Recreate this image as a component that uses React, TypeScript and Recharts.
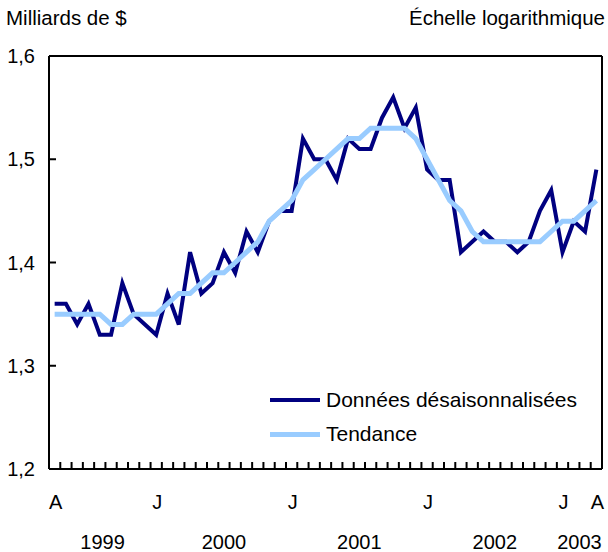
import React from 'react'
import { LineChart, Line, XAxis, YAxis } from 'recharts'

// Monthly, April 1999 to April 2003 (49 months), index 0 = April 1999
const seasonalData = [
  1.36, 1.36, 1.34, 1.36, 1.33, 1.33, 1.38, 1.35, 1.34,
  1.33, 1.37, 1.34, 1.41, 1.37, 1.38, 1.41, 1.39, 1.43, 1.41, 1.44, 1.45,
  1.45, 1.52, 1.5, 1.5, 1.48, 1.52, 1.51, 1.51, 1.54, 1.56, 1.53, 1.55,
  1.49, 1.48, 1.48, 1.41, 1.42, 1.43, 1.42, 1.42, 1.41, 1.42, 1.45, 1.47,
  1.41, 1.44, 1.43, 1.49,
]

const trendData = [
  1.35, 1.35, 1.35, 1.35, 1.35, 1.34, 1.34, 1.35, 1.35,
  1.35, 1.36, 1.37, 1.37, 1.38, 1.39, 1.39, 1.4, 1.41, 1.42, 1.44, 1.45,
  1.46, 1.48, 1.49, 1.5, 1.51, 1.52, 1.52, 1.53, 1.53, 1.53, 1.53, 1.52,
  1.5, 1.48, 1.46, 1.45, 1.43, 1.42, 1.42, 1.42, 1.42, 1.42, 1.42, 1.43,
  1.44, 1.44, 1.45, 1.46,
]

// Month letters under the axis, by month index
const monthLabelPos = [0, 9, 21, 33, 45, 48]
const monthLabels = ['A', 'J', 'J', 'J', 'J', 'A']

// Year labels under the month letters
const yearLabelPos = [4.25, 15, 27, 39, 46.5]
const yearLabels = ['1999', '2000', '2001', '2002', '2003']

const yTicks = [1.2, 1.3, 1.4, 1.5, 1.6]

const seriesNames = ['Données désaisonnalisées', 'Tendance']

const NAVY = '#000080'
const LIGHT_BLUE = '#99ccff'
const FONT = '"Liberation Sans", Arial, sans-serif'
const FS = 20

const data = seasonalData.map((v, i) => ({ i, seasonal: v, trend: trendData[i] }))

const monthCount = seasonalData.length
// Tick marks sit on the month boundaries
const boundaryTicks = Array.from({ length: monthCount + 1 }, (_, k) => k - 0.5)
const xTicks = Array.from(
  new Set([...boundaryTicks, ...monthLabelPos, ...yearLabelPos])
).sort((a, b) => a - b)

const X_DOMAIN: [number, number] = [-0.5, monthCount - 0.5]

function XTick(props: any) {
  const { x, y, payload } = props
  const v = payload.value as number
  const mi = monthLabelPos.indexOf(v)
  const yi = yearLabelPos.indexOf(v)
  const isBoundary = Number.isInteger(v + 0.5)
  return (
    <g>
      {isBoundary && (
        <line x1={x} x2={x} y1={y - 7} y2={y} stroke='#000' strokeWidth={2} />
      )}
      {mi >= 0 && (
        <text x={x + 1} y={y + 40} textAnchor='middle' fontSize={FS} fill='#000' fontFamily={FONT}>
          {monthLabels[mi]}
        </text>
      )}
      {yi >= 0 && (
        <text x={x} y={y + 80} textAnchor='middle' fontSize={FS} fill='#000' fontFamily={FONT}>
          {yearLabels[yi]}
        </text>
      )}
    </g>
  )
}

export default function App() {
  return (
    <div style={{ position: 'relative', width: 608, height: 552, fontFamily: FONT }}>
      <style>{'body{margin:0}'}</style>
      <div style={{ position: 'absolute', left: 6, top: 6, fontSize: 20.5 }}>Milliards de $</div>
      <div style={{ position: 'absolute', right: 3, top: 6, fontSize: 20.5 }}>Échelle logarithmique</div>

      <LineChart width={608} height={552} data={data} margin={{ top: 0, right: 0, bottom: 0, left: 0 }}>
        <XAxis
          dataKey='i'
          type='number'
          domain={X_DOMAIN}
          ticks={xTicks}
          interval={0}
          height={83}
          tickSize={0}
          tickMargin={0}
          tickLine={false}
          axisLine={{ stroke: '#000', strokeWidth: 2 }}
          tick={<XTick />}
        />
        <XAxis
          xAxisId='top'
          dataKey='i'
          type='number'
          orientation='top'
          domain={X_DOMAIN}
          height={56}
          tick={false}
          tickLine={false}
          axisLine={{ stroke: '#000', strokeWidth: 2 }}
        />
        <YAxis
          yAxisId='left'
          type='number'
          domain={[1.2, 1.6]}
          ticks={yTicks}
          width={49}
          tickSize={-7}
          tickMargin={21}
          tickFormatter={(v: number) => v.toFixed(1).replace('.', ',')}
          tick={{ fill: '#000', fontSize: FS, fontFamily: FONT }}
          tickLine={{ stroke: '#000', strokeWidth: 2 }}
          axisLine={{ stroke: '#000', strokeWidth: 2 }}
        />
        <YAxis
          yAxisId='right'
          orientation='right'
          type='number'
          domain={[1.2, 1.6]}
          ticks={yTicks}
          width={6}
          tickSize={-7}
          tick={false}
          tickLine={{ stroke: '#000', strokeWidth: 2 }}
          axisLine={{ stroke: '#000', strokeWidth: 2 }}
        />
        <Line
          yAxisId='left'
          dataKey='seasonal'
          name={seriesNames[0]}
          stroke={NAVY}
          strokeWidth={4}
          dot={false}
          isAnimationActive={false}
        />
        <Line
          yAxisId='left'
          dataKey='trend'
          name={seriesNames[1]}
          stroke={LIGHT_BLUE}
          strokeWidth={5}
          dot={false}
          isAnimationActive={false}
        />
      </LineChart>

      <div style={{ position: 'absolute', left: 270, top: 387, fontSize: 21 }}>
        {[NAVY, LIGHT_BLUE].map((c, k) => (
          <div key={k} style={{ display: 'flex', alignItems: 'center', height: 26, marginBottom: k === 0 ? 8 : 0 }}>
            <div style={{ width: 50, height: k === 0 ? 4 : 5, background: c, marginRight: 6 }} />
            <span>{seriesNames[k]}</span>
          </div>
        ))}
      </div>
    </div>
  )
}
